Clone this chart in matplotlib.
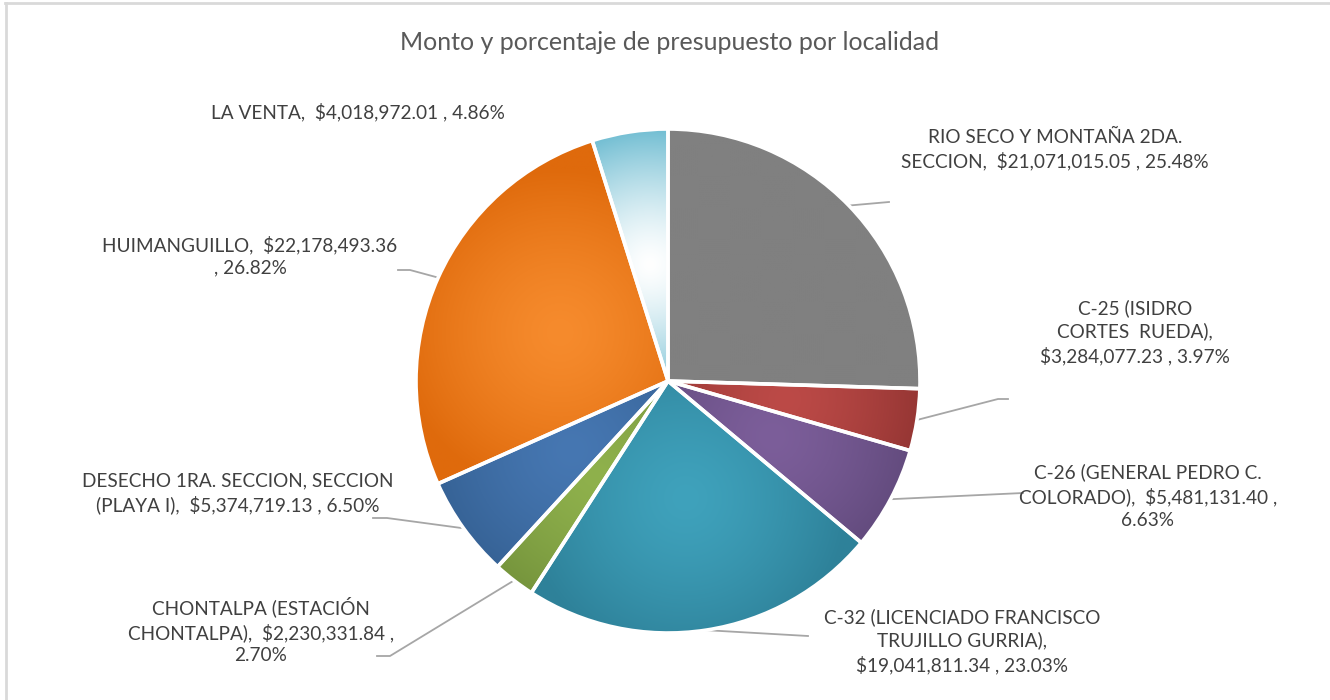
import numpy as np
import matplotlib
matplotlib.use("Agg")
import matplotlib.pyplot as plt
from matplotlib.patches import Wedge
from matplotlib.colors import to_rgb


TITLE = "Monto y porcentaje de presupuesto por localidad"

localidades = [
    "RIO SECO Y MONTAÑA 2DA. SECCION",
    "C-25 (ISIDRO CORTES  RUEDA)",
    "C-26 (GENERAL PEDRO C. COLORADO)",
    "C-32 (LICENCIADO FRANCISCO TRUJILLO GURRIA)",
    "CHONTALPA (ESTACIÓN CHONTALPA)",
    "DESECHO 1RA. SECCION, SECCION (PLAYA I)",
    "HUIMANGUILLO",
    "LA VENTA",
]
montos = [21071015.05, 3284077.23, 5481131.40, 19041811.34,
          2230331.84, 5374719.13, 22178493.36, 4018972.01]
porcentajes = [25.48, 3.97, 6.63, 23.03, 2.70, 6.50, 26.82, 4.86]

# texto de las etiquetas tal como se parte en renglones
etiquetas = [
    "RIO SECO Y MONTAÑA 2DA.\nSECCION,  $21,071,015.05 , 25.48%",
    "C-25 (ISIDRO\nCORTES  RUEDA),\n$3,284,077.23 , 3.97%",
    "C-26 (GENERAL PEDRO C.\nCOLORADO),  $5,481,131.40 ,\n6.63%",
    "C-32 (LICENCIADO FRANCISCO\nTRUJILLO GURRIA),\n$19,041,811.34 , 23.03%",
    "CHONTALPA (ESTACIÓN\nCHONTALPA),  $2,230,331.84 ,\n2.70%",
    "DESECHO 1RA. SECCION, SECCION\n(PLAYA I),  $5,374,719.13 , 6.50%",
    "HUIMANGUILLO,  $22,178,493.36\n, 26.82%",
    "LA VENTA,  $4,018,972.01 , 4.86%",
]

# colores (claro al centro del gajo, oscuro en los bordes)
claros = ["#808080", "#BC4A47", "#7C5E9A", "#3FA2BC", "#8FB14C", "#4677B2", "#F68B2D", "#FFFFFF"]
oscuros = ["#808080", "#8A302E", "#5C4676", "#2E8199", "#6E8C38", "#325D8E", "#DF6A0C", "#47AAC5"]

# posiciones (pixeles) de las etiquetas y del final de cada linea guia
pos_etiquetas = [(1055, 150), (1135, 332), (1148, 496), (962, 641),
                 (261, 630), (238, 493), (250, 256), (358, 112)]
fin_lineas = [[(889, 202)], [(998, 399), (1008, 399)], [(1023, 493)], [(808, 636)],
              [(390, 656), (377, 656)], [(387, 518), (373, 518)], [(410, 270), (398, 270)], None]

W, H = 1330, 700
CX, CY, R = 668, 381, 252


def py(y):
    return H - y


def main():
    plt.rcParams["font.family"] = ["Lato", "DejaVu Sans"]
    fig = plt.figure(figsize=(W / 100, H / 100), dpi=100)
    ax = fig.add_axes([0, 0, 1, 1])

    wedges, _ = ax.pie(montos, startangle=90, counterclock=False,
                       center=(CX, py(CY)), radius=R, colors=oscuros,
                       wedgeprops=dict(linewidth=0))

    # degradado radial dentro de cada gajo
    n = 500
    xs = np.linspace(CX - R, CX + R, n)
    ys = np.linspace(py(CY) - R, py(CY) + R, n)
    gx, gy = np.meshgrid(xs, ys)
    for w, c1, c2 in zip(wedges, claros, oscuros):
        mid = np.deg2rad((w.theta1 + w.theta2) / 2)
        gcx = CX + 0.47 * R * np.cos(mid)
        gcy = py(CY) + 0.47 * R * np.sin(mid)
        t = np.clip(np.hypot(gx - gcx, gy - gcy) / (0.65 * R), 0, 1) ** 1.4
        a, b = np.array(to_rgb(c1)), np.array(to_rgb(c2))
        img = a[None, None, :] * (1 - t[..., None]) + b[None, None, :] * t[..., None]
        im = ax.imshow(img, extent=(CX - R, CX + R, py(CY) - R, py(CY) + R),
                       origin="lower", zorder=2, interpolation="bilinear")
        im.set_clip_path(w)
        ax.add_patch(Wedge(w.center, w.r, w.theta1, w.theta2, facecolor="none",
                           edgecolor="white", linewidth=2.6, zorder=3))

    # lineas guia y etiquetas
    for w, txt, (lx, ly), fin in zip(wedges, etiquetas, pos_etiquetas, fin_lineas):
        if fin is not None:
            mid = np.deg2rad((w.theta1 + w.theta2) / 2)
            x0 = CX + R * np.cos(mid)
            y0 = py(CY) + R * np.sin(mid)
            xs_l = [x0] + [p[0] for p in fin]
            ys_l = [y0] + [py(p[1]) for p in fin]
            ax.plot(xs_l, ys_l, color="#A6A6A6", linewidth=1.3, zorder=1)
        ax.text(lx, py(ly), txt, ha="center", va="center", multialignment="center",
                fontsize=13.7, color="#404040", linespacing=1.38, zorder=4)

    ax.text(670, py(42), TITLE, ha="center", va="center", fontsize=18, color="#595959")

    # borde del area del grafico
    ax.plot([5, W], [py(3), py(3)], color="#D9D9D9", linewidth=2, zorder=5)
    ax.plot([5.5, 5.5], [0, py(3)], color="#D9D9D9", linewidth=2, zorder=5)

    ax.set_xlim(0, W)
    ax.set_ylim(0, H)
    ax.set_aspect("auto")
    ax.axis("off")
    fig.savefig("out.png", dpi=100, facecolor="white")
    plt.close(fig)


if __name__ == "__main__":
    main()
